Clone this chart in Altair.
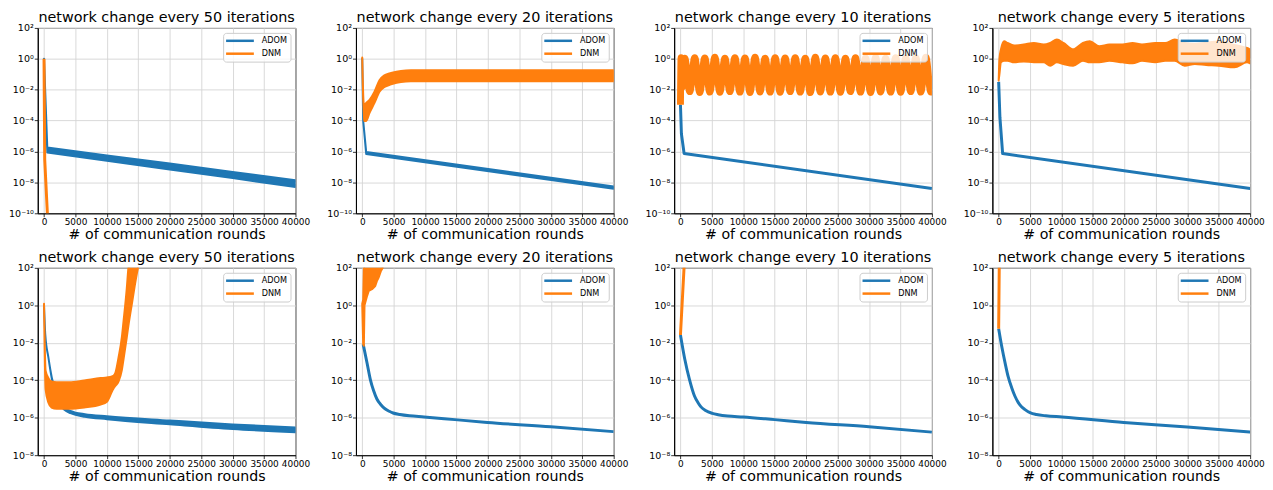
import altair as alt
import pandas as pd

BLUE = "#1f77b4"
ORANGE = "#ff7f0e"
SERIES = ["ADOM", "DNM"]
SERIES_COLOR = {"ADOM": BLUE, "DNM": ORANGE}
TITLES = [
    "network change every 50 iterations",
    "network change every 20 iterations",
    "network change every 10 iterations",
    "network change every 5 iterations",
]
X_TITLE = "# of communication rounds"
X_TICKS = [0, 5000, 10000, 15000, 20000, 25000, 30000, 35000, 40000]
Y_TICKS_TOP = [1e-10, 1e-8, 1e-6, 1e-4, 1e-2, 1e0, 1e2]
Y_TICKS_BOTTOM = [1e-8, 1e-6, 1e-4, 1e-2, 1e0, 1e2]

# ---------------- top row ----------------
P1_ADOM_X = [0, 520, 10000, 20000, 30000, 40000]
P1_ADOM_LO = [1.0, 8.7e-7, 2.5e-7, 6.8e-8, 1.9e-8, 5.0e-9]
P1_ADOM_HI = [1.0, 1.8e-6, 5.6e-7, 1.7e-7, 4.8e-8, 1.4e-8]
P1_DNM_X = [0, 110, 530, 800]
P1_DNM_Y = [1.0, 3e-7, 1e-10, 1e-13]

P2_ADOM_X = [0, 150, 630, 40000]
P2_ADOM_LO = [1.0, 1e-4, 6.8e-7, 3.9e-9]
P2_ADOM_HI = [1.0, 1e-4, 9.3e-7, 5.4e-9]
P2_DNM_X = [0, 260, 630, 1160, 1950, 2740, 3530, 4580, 6160, 7740, 40000]
P2_DNM_HI = [1.2, 1.07e-3, 1.4e-3, 2.2e-3, 7.4e-3, 4.1e-2, 8.5e-2, 0.12, 0.166, 0.18, 0.185]
P2_DNM_LO = [1.2, 9.5e-5, 9.5e-5, 3.2e-4, 1.4e-3, 7.4e-3, 1.5e-2, 2.2e-2, 3.2e-2, 3.5e-2, 3.5e-2]

P3_ADOM_X = [0, 150, 580, 40000]
P3_ADOM_Y = [1.07e-3, 1.4e-5, 7.4e-7, 4.0e-9]
P3_DNM_X = [0, 100, 300, 680, 1480, 2270, 3070, 3870, 4670, 5470, 6270, 7070, 7860,
            8660, 9460, 10260, 11060, 11860, 12660, 13460, 14260, 15060, 15850, 16650,
            17450, 18250, 19050, 19850, 20650, 21450, 22250, 23050, 23840, 24640, 25440,
            26240, 27040, 27840, 28640, 29440, 30240, 31040, 31830, 32630, 33430, 34230,
            35030, 35830, 36630, 37430, 38230, 39030, 39830, 40000]
P3_DNM_Y = [1.07e-3, 1.2, 1.5e-2, 1.1, 7.5e-3, 1.2, 6.5e-3, 1.15, 7.0e-3, 1.25, 6.8e-3, 1.1,
            7.5e-3, 1.2, 7.0e-3, 1.15, 6.5e-3, 1.25, 7.2e-3, 1.1, 7.0e-3, 1.2, 6.8e-3, 1.15,
            7.5e-3, 1.2, 7.0e-3, 1.1, 6.5e-3, 1.25, 7.2e-3, 1.15, 7.0e-3, 1.2, 6.8e-3, 1.1,
            7.5e-3, 1.2, 7.0e-3, 1.15, 6.5e-3, 1.25, 7.2e-3, 1.1, 7.0e-3, 1.2, 6.8e-3, 1.15,
            7.5e-3, 1.2, 7.0e-3, 1.25, 7.0e-3, 1.5e-2]

P4_ADOM_X = [0, 200, 630, 40000]
P4_ADOM_Y = [3.2e-2, 1.6e-4, 7.4e-7, 4.0e-9]
P4_DNM_X = [0, 120, 360, 880, 1400, 2450, 4000, 5600, 7150, 8200, 9250, 10300, 11850,
            13400, 14500, 16000, 17600, 19700, 21300, 22800, 24900, 26500, 28000, 29600,
            31200, 33000, 35000, 37500, 39500, 40000]
P4_DNM_HI = [4e-2, 1.0, 4.1, 13.7, 10.7, 7.3, 8.4, 10.7, 8.4, 10.7, 17.5, 10.7, 4.1,
             10.7, 13.7, 6.6, 8.4, 8.4, 10.7, 8.4, 10.7, 10.7, 17.5, 10.7, 9.0, 11.0,
             13.0, 8.0, 5.0, 4.0]
P4_DNM_LO = [4e-2, 0.1, 0.59, 0.75, 0.75, 0.59, 0.68, 0.59, 0.59, 0.36, 0.59, 0.46, 0.36,
             0.75, 0.59, 0.59, 0.75, 0.59, 0.51, 0.75, 0.59, 0.75, 0.75, 0.36, 0.46, 0.40,
             0.36, 0.28, 0.59, 0.50]

# ---------------- bottom row ----------------
P5_ADOM_X = [0, 200, 700, 1240, 2000, 2500, 3000, 3500, 4200, 5000, 6500, 10000, 20000, 30000, 40000]
P5_ADOM_HI = [1.0, 2.75e-2, 1.6e-3, 1.38e-4, 1.78e-5, 7.1e-6, 4.0e-6, 3.0e-6, 2.29e-6, 1.86e-6,
              1.55e-6, 1.2e-6, 7.1e-7, 4.37e-7, 3.0e-7]
P5_ADOM_LO = [1.0, 2.75e-2, 1.6e-3, 1.2e-4, 1.41e-5, 5.6e-6, 3.16e-6, 2.29e-6, 1.74e-6, 1.41e-6,
              1.12e-6, 8.3e-7, 4.47e-7, 2.5e-7, 1.66e-7]
P5_DNM_X = [0, 250, 700, 1200, 2000, 4000, 6400, 9000, 10000, 10800, 11100, 11350, 11860,
            12380, 12640, 13160, 13420, 13940, 14950, 15500]
P5_DNM_HI = [1.2, 3.2e-4, 1.3e-4, 8.7e-5, 7.9e-5, 7.8e-5, 9.8e-5, 1.3e-4, 1.4e-4, 1.6e-4,
             1.8e-4, 2.5e-4, 1.7e-3, 2.0e-2, 0.135, 7.9, 100, 1000, 1e4, 3.2e4]
P5_DNM_LO = [1.2, 3.2e-5, 6.3e-6, 3.5e-6, 3.0e-6, 3.0e-6, 3.5e-6, 5.0e-6, 7.1e-6, 2.5e-5,
             3.9e-5, 5.0e-5, 8.7e-5, 3.5e-4, 1.26e-3, 1.9e-2, 7.9e-2, 1.0, 100, 500]

P6_ADOM_X = [150, 780, 1300, 1800, 2330, 3000, 3620, 4300, 4910, 6000, 7500, 9830, 14730,
             19900, 30000, 40000]
P6_ADOM_Y = [8.3e-3, 7.8e-4, 1.05e-4, 2.8e-5, 1.0e-5, 4.8e-6, 3.0e-6, 2.2e-6, 1.78e-6,
             1.48e-6, 1.26e-6, 1.1e-6, 7.9e-7, 5.6e-7, 3.3e-7, 1.8e-7]
P6_DNM_X = [0, 150, 260, 362, 776, 1035, 1552, 2070, 2328, 2587, 2949, 3259, 3600]
P6_DNM_HI = [1.2, 2.0, 100, 1e3, 1e4, 1e4, 1e4, 1e4, 1e4, 1e4, 1e4, 1e4, 1e4]
P6_DNM_LO = [1.0, 8e-3, 7e-3, 1.0, 3.2, 5.9, 7.2, 10.7, 19.5, 29, 65, 100, 1000]

P7_ADOM_X = [0, 673, 1450, 2230, 2800, 3260, 4000, 5070, 6000, 7500, 10000, 15000, 20000,
             30000, 40000]
P7_ADOM_Y = [2.6e-2, 1.4e-3, 1.05e-4, 1.45e-5, 6.3e-6, 3.8e-6, 2.4e-6, 1.7e-6, 1.45e-6,
             1.23e-6, 1.1e-6, 7.9e-7, 5.6e-7, 3.3e-7, 1.7e-7]
P7_DNM_X = [0, 570, 1000]
P7_DNM_Y = [2.6e-2, 100, 1e6]

P8_ADOM_X = [0, 520, 1035, 1500, 2070, 2600, 3100, 3600, 4140, 5070, 6000, 7500, 10100,
             19900, 30000, 40000]
P8_ADOM_Y = [5.6e-2, 5.6e-3, 7.9e-4, 1.6e-4, 4.0e-5, 1.4e-5, 6.6e-6, 4.0e-6, 2.8e-6, 1.8e-6,
             1.48e-6, 1.26e-6, 1.1e-6, 5.6e-7, 3.2e-7, 1.7e-7]
P8_DNM_X = [0, 90, 200]
P8_DNM_Y = [5.6e-2, 100, 1e5]

LABEL_EXPR = (
    "datum.value < 3e-10 ? '10⁻¹⁰' : datum.value < 3e-8 ? '10⁻⁸' : "
    "datum.value < 3e-6 ? '10⁻⁶' : datum.value < 3e-4 ? '10⁻⁴' : "
    "datum.value < 3e-2 ? '10⁻²' : datum.value < 3 ? '10⁰' : '10²'"
)

COLOR_SCALE = alt.Scale(domain=SERIES, range=[BLUE, ORANGE])
LEGEND = alt.Legend(
    title=None, orient="top-right", offset=5, padding=3, rowPadding=3,
    symbolType="M-4,0H4", symbolSize=49, symbolStrokeWidth=2.5,
    symbolOffset=9, labelOffset=17,
    labelFont="DejaVu Sans", labelFontSize=8.2, labelColor="black",
    fillColor="rgba(255,255,255,0.8)", strokeColor="#cccccc", cornerRadius=3,
)


def band(x, lo, hi, name, interp="monotone"):
    return ("band", pd.DataFrame({"x": x, "lo": lo, "hi": hi, "series": name}), 2.0, name, interp)


def line(x, y, name, w=3.0, interp="monotone"):
    return ("line", pd.DataFrame({"x": x, "y": y, "series": name}), w, name, interp)


def panel(title, yticks, height, layers):
    xenc = alt.X("x:Q", scale=alt.Scale(domain=[-1000, 40000], nice=False, zero=False),
                 axis=alt.Axis(values=X_TICKS, format="d", title=X_TITLE,
                               labelOverlap=False, labelFlush=False))
    yscale = alt.Scale(type="log", domain=[yticks[0], yticks[-1]], nice=False)
    yaxis = alt.Axis(values=yticks, labelExpr=LABEL_EXPR, title=None, labelFontSize=9.6,
                     minExtent=28, maxExtent=28, labelOverlap=False, labelFlush=False)
    stroke = alt.Stroke("series:N", scale=COLOR_SCALE, legend=LEGEND)
    charts = []
    for kind, df, w, name, interp in layers:
        if kind == "band":
            c = alt.Chart(df).mark_area(
                clip=True, strokeWidth=w, strokeJoin="round",
                fill=SERIES_COLOR[name], interpolate=interp,
            ).encode(
                x=xenc,
                y=alt.Y("hi:Q", scale=yscale, axis=yaxis, stack=None),
                y2="lo:Q",
                stroke=stroke,
            )
        else:
            c = alt.Chart(df).mark_line(
                clip=True, strokeWidth=w, strokeJoin="round", interpolate=interp,
            ).encode(
                x=xenc,
                y=alt.Y("y:Q", scale=yscale, axis=yaxis),
                stroke=stroke,
            )
        charts.append(c)
    return alt.layer(*charts).properties(
        width=260, height=height, title=alt.Title(title, frame="group"))


H_TOP = 187
H_BOT = 189

panels = [
    panel(TITLES[0], Y_TICKS_TOP, H_TOP, [
        band(P1_ADOM_X, P1_ADOM_LO, P1_ADOM_HI, "ADOM", "linear"),
        line(P1_DNM_X, P1_DNM_Y, "DNM", 3.0, "linear"),
    ]),
    panel(TITLES[1], Y_TICKS_TOP, H_TOP, [
        band(P2_ADOM_X, P2_ADOM_LO, P2_ADOM_HI, "ADOM", "linear"),
        band(P2_DNM_X, P2_DNM_LO, P2_DNM_HI, "DNM"),
    ]),
    panel(TITLES[2], Y_TICKS_TOP, H_TOP, [
        line(P3_ADOM_X, P3_ADOM_Y, "ADOM", 3.0, "linear"),
        line(P3_DNM_X, P3_DNM_Y, "DNM", 7.0),
    ]),
    panel(TITLES[3], Y_TICKS_TOP, H_TOP, [
        line(P4_ADOM_X, P4_ADOM_Y, "ADOM", 3.0, "linear"),
        band(P4_DNM_X, P4_DNM_LO, P4_DNM_HI, "DNM"),
    ]),
    panel(TITLES[0], Y_TICKS_BOTTOM, H_BOT, [
        band(P5_ADOM_X, P5_ADOM_LO, P5_ADOM_HI, "ADOM"),
        band(P5_DNM_X, P5_DNM_LO, P5_DNM_HI, "DNM"),
    ]),
    panel(TITLES[1], Y_TICKS_BOTTOM, H_BOT, [
        line(P6_ADOM_X, P6_ADOM_Y, "ADOM"),
        band(P6_DNM_X, P6_DNM_LO, P6_DNM_HI, "DNM", "linear"),
    ]),
    panel(TITLES[2], Y_TICKS_BOTTOM, H_BOT, [
        line(P7_ADOM_X, P7_ADOM_Y, "ADOM"),
        line(P7_DNM_X, P7_DNM_Y, "DNM", 3.0, "linear"),
    ]),
    panel(TITLES[3], Y_TICKS_BOTTOM, H_BOT, [
        line(P8_ADOM_X, P8_ADOM_Y, "ADOM"),
        line(P8_DNM_X, P8_DNM_Y, "DNM", 3.0, "linear"),
    ]),
]

chart = (
    alt.concat(*panels, columns=4, spacing={"row": 7, "column": 16})
    .resolve_scale(stroke="independent")
    .resolve_legend(stroke="independent")
    .properties(padding=0, background="white")
    .configure_view(stroke="black", strokeWidth=1)
    .configure_axis(
        grid=True, gridColor="#d4d4d4", gridWidth=0.9,
        domainColor="black", domainWidth=1,
        tickColor="black", tickSize=3.5, tickWidth=0.8,
        labelColor="black", labelFont="DejaVu Sans", labelFontSize=9, labelPadding=1,
        titleColor="black", titleFont="DejaVu Sans", titleFontSize=14.3,
        titleFontWeight="normal", titlePadding=1,
    )
    .configure_title(font="DejaVu Sans", fontSize=14.5, fontWeight="normal",
                     color="black", offset=-3, anchor="middle")
)

chart.save("out.html", embed_options={"renderer": "svg", "actions": False})
